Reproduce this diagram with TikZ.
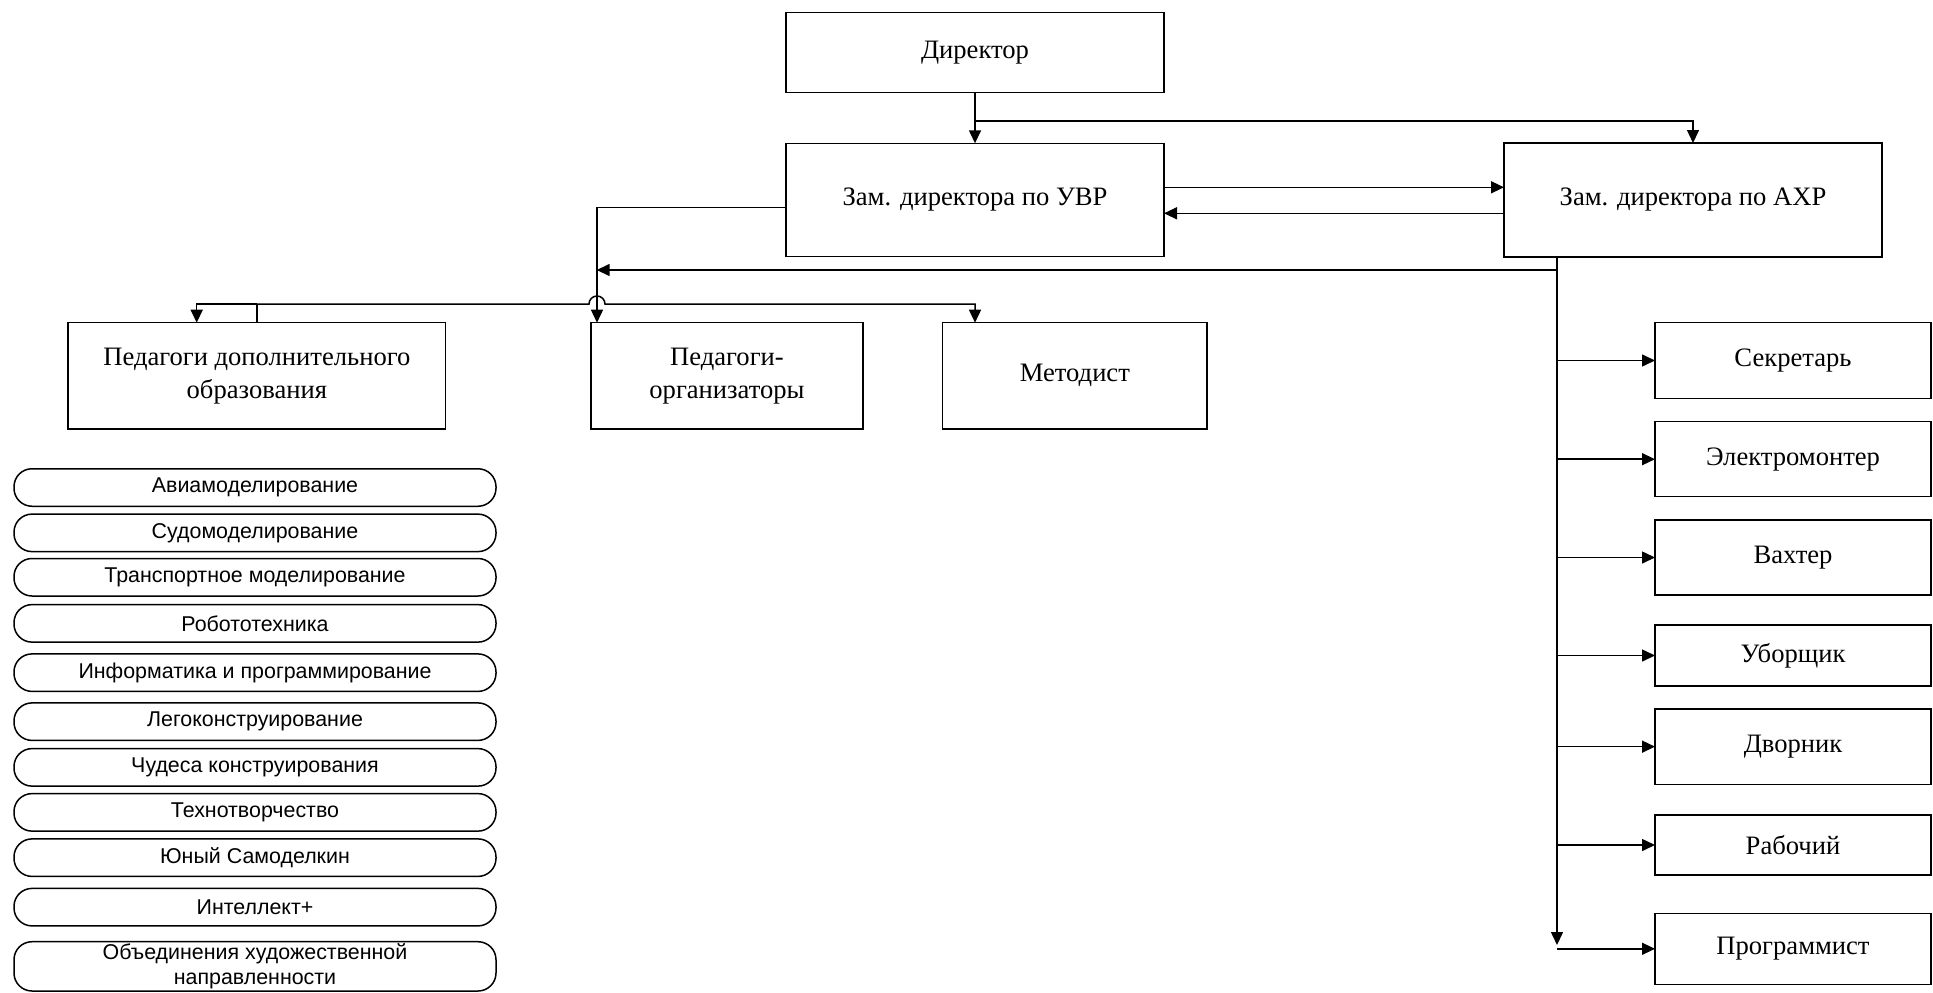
\documentclass[tikz,border=0pt]{standalone}
\usepackage{fontspec}
\setmainfont{Liberation Serif}
\newfontfamily\listfont{Liberation Sans}
\usetikzlibrary{arrows.meta}
\tikzset{
  ln/.style={line width=1.5pt, draw=black},
  arr/.style={ln, -{Triangle[length=13pt,width=12pt]}},
  rbox/.style={draw, line width=1.5pt, inner sep=0pt, outer sep=0pt, align=center,
    font=\fontsize{26.6}{32.7}\selectfont},
  lbox/.style={draw, line width=1.5pt, inner sep=0pt, outer sep=0pt, align=center,
    rounded corners=18pt, minimum width=482pt, minimum height=37.5pt,
    font=\listfont\fontsize{21.4}{25}\selectfont},
  colbox/.style={rbox, minimum width=276pt}
}
\begin{document}
\begin{tikzpicture}[x=1pt,y=-1pt]
\useasboundingbox (0,0) rectangle (1933,993);
% top level
\node[rbox, minimum width=378pt, minimum height=79.6pt] (dir) at (975,52.5) {Директор};
\node[rbox, minimum width=378pt, minimum height=113.4pt] (uvr) at (975,200) {Зам. директора по УВР};
\node[rbox, minimum width=378pt, minimum height=114pt] (axr) at (1693,200) {Зам. директора по АХР};
% second level
\node[rbox, minimum width=377.7pt, minimum height=106.3pt] (ped) at (256.85,375.85) {Педагоги дополнительного\\образования};
\node[rbox, minimum width=272pt, minimum height=106.3pt] (org) at (727,375.85) {Педагоги-\\организаторы};
\node[rbox, minimum width=264.3pt, minimum height=106.3pt] (met) at (1074.85,375.85) {Методист};
% right column
\node[colbox, minimum height=75.6pt] (sek) at (1793,360.5) {Секретарь};
\node[colbox, minimum height=75pt] (ele) at (1793,459.2) {Электромонтер};
\node[colbox, minimum height=75pt] (vax) at (1793,557.5) {Вахтер};
\node[colbox, minimum height=61pt] (ubo) at (1793,655.5) {Уборщик};
\node[colbox, minimum height=75.3pt] (dvo) at (1793,746.65) {Дворник};
\node[colbox, minimum height=60pt] (rab) at (1793,845) {Рабочий};
\node[colbox, minimum height=71pt] (pro) at (1793,948.8) {Программист};
% left list
\node[lbox] (l1) at (255,487.5) {Авиамоделирование};
\node[lbox] (l2) at (255,532.85) {Судомоделирование};
\node[lbox] (l3) at (255,577.25) {Транспортное моделирование};
\node[lbox] (l4) at (255,623.35) {Робототехника};
\node[lbox] (l5) at (255,672.65) {Информатика и программирование};
\node[lbox] (l6) at (255,721.65) {Легоконструирование};
\node[lbox] (l7) at (255,767.35) {Чудеса конструирования};
\node[lbox] (l8) at (255,812.35) {Технотворчество};
\node[lbox] (l9) at (255,857.65) {Юный Самоделкин};
\node[lbox] (l10) at (255,907.15) {Интеллект+};
\node[lbox, minimum height=49.3pt] (l11) at (255,966.35) {Объединения художественной\\направленности};
% connectors top
\coordinate (dj) at (975,121);
\draw[arr] (dir.south) -- (uvr.north);
\draw[arr] (dj) -| (axr.north);
\draw[arr] ([yshift=12.7pt]uvr.east) -- ([yshift=12.7pt]axr.west);
\draw[arr] ([yshift=-13.3pt]axr.west) -- ([yshift=-13.3pt]uvr.east);
\draw[arr] ([yshift=-7.3pt]uvr.west) -| ([xshift=6pt]org.north west);
% AXR trunk
\coordinate (v) at ([xshift=53pt]axr.south west);
\coordinate (hT) at (596.7,270);
\coordinate (vend) at (1557,945);
\draw[arr] (hT -| v) -- (hT);
\draw[arr] (v) -- (vend);
\foreach \b in {sek,ele,vax,ubo,dvo,rab,pro}{
  \draw[arr] (v |- \b.west) -- (\b.west);
}
% second-level bus with hop
\coordinate (hL) at (196.7,304);
\coordinate (hS) at (256.85,304);
\coordinate (hopL) at (589,304);
\coordinate (hR) at (975,304);
\draw[ln] (ped.north) -- (hS);
\draw[arr] (hS) -- (hL) -- (hL |- ped.north);
\draw[arr] (hS) -- (hopL) arc[start angle=180, end angle=0, radius=8pt] -- (hR) -- (hR |- met.north);
\end{tikzpicture}
\end{document}
